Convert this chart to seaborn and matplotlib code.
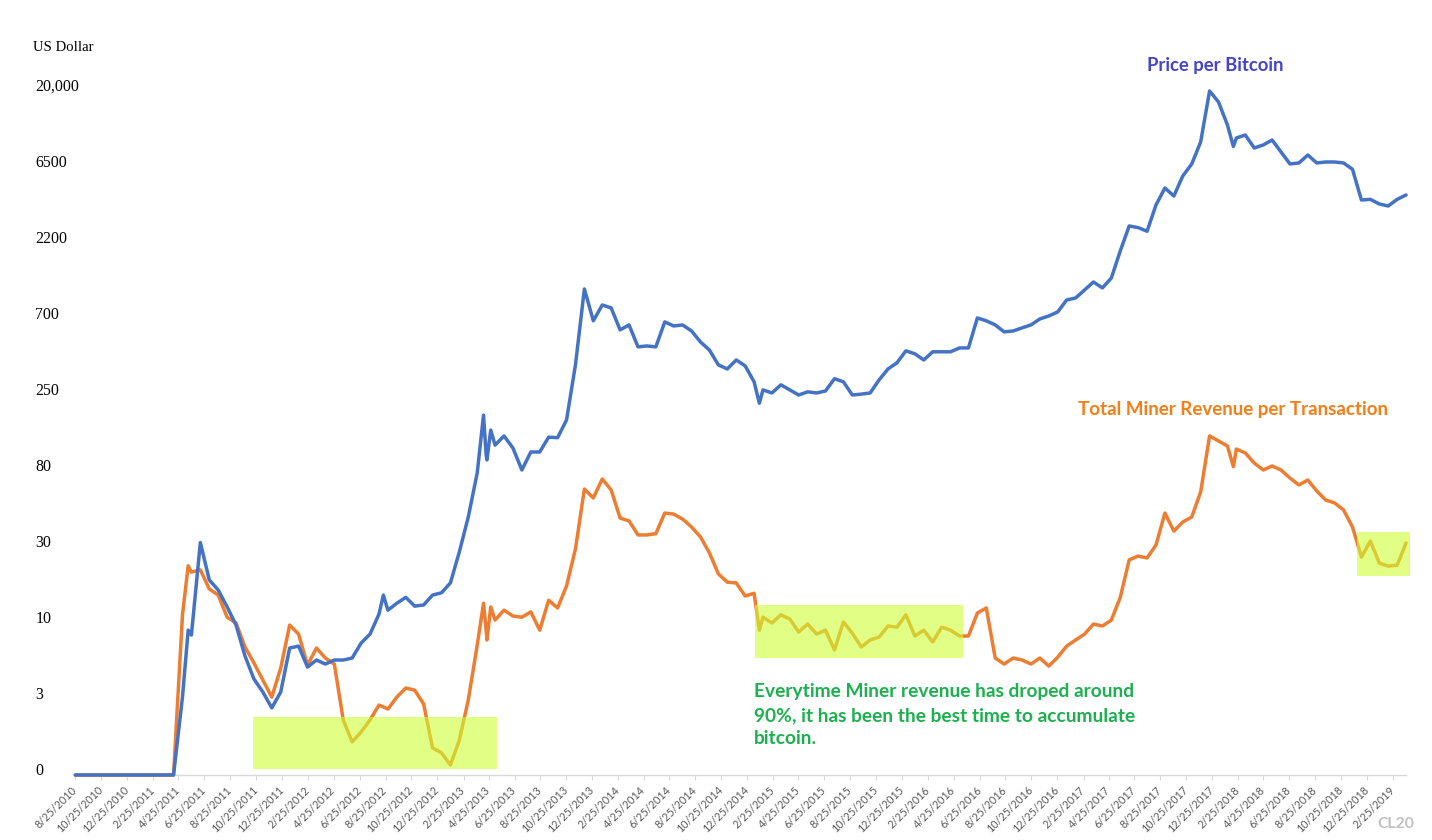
import numpy as np
import pandas as pd
import matplotlib
matplotlib.use("Agg")
import matplotlib.pyplot as plt
import seaborn as sns

# ---------------- data ----------------
dates = pd.date_range("2010-08-25", "2019-03-27", periods=150)

price = [
    0, 0, 0, 0, 0, 0, 0, 0, 0, 0,
    0, 0, 3.1, 8.37, 31.8, 18.8, 16.25, 12.7, 9.7, 6.09,
    4.22, 3.39, 2.40, 3.39, 6.88, 7.09, 5.12, 5.72, 5.37, 5.72,
    5.72, 5.9, 7.42, 8.49, 11.4, 12.1, 13.4, 14.6, 12.85, 13.06,
    15.1, 15.6, 18.0, 28.0, 44.3, 78, 101.7, 118, 135.5, 113,
    81.2, 106.5, 106.5, 133, 132, 172, 376, 1101, 683, 865,
    827, 604, 646, 480, 486, 480, 673, 637, 646, 595,
    513, 460, 376, 356, 402, 371, 299, 268, 257, 287,
    268, 250, 261, 257, 264, 312, 299, 250, 253, 257,
    307, 356, 387, 455, 437, 402, 449, 449, 449, 473,
    473, 711, 683, 646, 588, 595, 621, 646, 701, 733,
    779, 933, 961, 1085, 1223, 1118, 1298, 1951, 2805, 2740,
    2600, 3783, 4821, 4297, 5720, 6795, 9413, 20000, 17000, 12100,
    9985, 10430, 8610, 8998, 9690, 8113, 6800, 6900, 7763, 6900,
    7000, 7000, 6900, 6295, 4062, 4100, 3836, 3730, 4100, 4364,
]

revenue = [
    0, 0, 0, 0, 0, 0, 0, 0, 0, 0,
    0, 0, 11.3, 21.0, 21.7, 16.5, 15.1, 10.9, 10.0, 7.0,
    5.46, 4.15, 3.1, 5.04, 9.7, 8.49, 5.28, 6.88, 5.9, 5.37,
    1.73, 0.83, 1.19, 1.73, 2.58, 2.33, 3.1, 3.63, 3.5, 2.65,
    0.64, 0.5, 0.2, 0.89, 2.93, 7.2, 9.0, 10.45, 12.1, 11.1,
    10.9, 11.8, 9.0, 14.0, 12.5, 17.2, 29.2, 63.5, 56.6, 72.2,
    62.7, 43.7, 42.1, 35.1, 35.1, 35.7, 46.6, 46.0, 43.1, 38.9,
    34.2, 27.6, 20.5, 18.2, 18.0, 14.9, 15.5, 10.9, 10.0, 11.3,
    10.6, 8.75, 9.85, 8.49, 9.0, 6.68, 10.15, 8.6, 7.0, 7.77,
    8.12, 9.57, 9.4, 11.3, 8.25, 9.0, 7.54, 9.4, 9.0, 8.25,
    8.25, 11.6, 12.5, 5.9, 5.37, 5.9, 5.72, 5.37, 5.9, 5.2,
    5.98, 7.09, 7.77, 8.49, 9.85, 9.57, 10.45, 14.6, 25.0, 26.4,
    25.7, 30.8, 46.6, 36.9, 41.5, 44.3, 61.1, 135.5, 125.6, 116.5,
    111.3, 104.9, 90.2, 81.2, 86.3, 81.2, 73.1, 66.9, 71.3, 61.9,
    55.1, 53.1, 48.5, 38.9, 26.0, 32.4, 23.9, 22.9, 23.2, 31.6,
]

# extra readings at sharp spikes / dips
extra_dates = ["2011-05-18", "2012-08-20", "2013-04-13", "2013-04-21",
               "2013-04-30", "2015-01-23", "2018-02-13"]
extra_price = [9.0, 15.1, 185, 94.4, 148, 221, 8807]
extra_revenue = [23.0, 2.46, 13.4, 7.77, 12.7, 9.0, 85.4]

ytick_values = [0, 3, 10, 30, 80, 250, 700, 2200, 6500, 20000]
ytick_labels = ["0", "3", "10", "30", "80", "250", "700", "2200", "6500", "20,000"]
xtick_dates = pd.date_range("2010-08-25", "2019-02-25", freq=pd.DateOffset(months=2))
xtick_labels = [f"{d.month}/{d.day}/{d.year}" for d in xtick_dates]

# highlight boxes: (start, end, low value, high value)
boxes = [
    ("2011-10-18", "2013-05-15", 0.116, 1.88),
    ("2015-01-13", "2016-05-17", 5.9, 13.1),
    ("2018-12-02", "2019-04-05", 19.9, 36.4),
]

df = pd.concat([
    pd.DataFrame({"date": dates, "price": price, "revenue": revenue}),
    pd.DataFrame({"date": pd.to_datetime(extra_dates), "price": extra_price,
                  "revenue": extra_revenue}),
]).sort_values("date").reset_index(drop=True)

# ---------------- style ----------------
sns.set_style("white")
plt.rcParams["font.family"] = ["Lato", "DejaVu Sans"]

W, H = 1432, 840
fig = plt.figure(figsize=(W / 100, H / 100), dpi=100)
left_px, right_px, bottom_px = 75.3, 1406.5, 775.0
unit_px = 76.0
top_pos = 9.4
ax = fig.add_axes([left_px / W, (H - bottom_px) / H,
                   (right_px - left_px) / W, top_pos * unit_px / H])

# custom axis scale: evenly spaced custom labels (log-like)
LT = np.log10(np.array(ytick_values, dtype=float) + 1.0)
IDX = np.arange(len(LT), dtype=float)


def fwd(v):
    v = np.asarray(v, dtype=float)
    t = np.log10(np.clip(v, -0.999, None) + 1.0)
    p = np.interp(t, LT, IDX)
    p = np.where(t > LT[-1], IDX[-1] + (t - LT[-1]) / (LT[-1] - LT[-2]), p)
    p = np.where(t < 0, t / LT[1], p)
    return p


def inv(p):
    p = np.asarray(p, dtype=float)
    t = np.interp(p, IDX, LT)
    t = np.where(p > IDX[-1], LT[-1] + (p - IDX[-1]) * (LT[-1] - LT[-2]), t)
    t = np.where(p < 0, p * LT[1], t)
    return 10 ** t - 1.0


ax.set_yscale("function", functions=(fwd, inv))

BLUE = "#4472C4"
ORANGE = "#ED7D31"
sns.lineplot(data=df, x="date", y="revenue", ax=ax, color=ORANGE, linewidth=2.5,
             zorder=3, clip_on=False)
sns.lineplot(data=df, x="date", y="price", ax=ax, color=BLUE, linewidth=2.5,
             zorder=3.1, clip_on=False)

for d0, d1, lo, hi in boxes:
    ax.fill_between([pd.Timestamp(d0), pd.Timestamp(d1)], lo, hi,
                    color="#CCFF33", alpha=0.6, linewidth=0, zorder=4, clip_on=False)

ax.set_xlim(pd.Timestamp("2010-08-25"), pd.Timestamp("2019-03-28"))
ax.set_ylim(0, float(inv(top_pos)))

for s in ["left", "top", "right"]:
    ax.spines[s].set_visible(False)
ax.spines["bottom"].set_color("#D9D9D9")
ax.spines["bottom"].set_linewidth(1.0)
ax.spines["bottom"].set_zorder(2)

ax.set_xticks(xtick_dates)
ax.set_xticklabels(xtick_labels, rotation=45, ha="right", va="center",
                   rotation_mode="anchor", color="#595959", fontsize=7.8,
                   family=["Lato", "DejaVu Sans"])
ax.tick_params(axis="x", direction="out", length=3.6, width=0.8, color="#D9D9D9",
               pad=6.0, bottom=True)

ax.set_yticks(ytick_values)
ax.set_yticklabels(ytick_labels, family=["Liberation Serif", "DejaVu Serif"],
                   fontsize=11.4, color="black")
ax.tick_params(axis="y", length=0, pad=40 * 0.72, left=True)
for lab in ax.get_yticklabels():
    lab.set_ha("left")
    lab.set_va("baseline")
ax.yaxis.set_minor_locator(matplotlib.ticker.NullLocator())
ax.set_xlabel("")
ax.set_ylabel("")
ax.grid(False)
ax.set_facecolor("white")

# ---------------- texts ----------------
fig.canvas.draw()
renderer = fig.canvas.get_renderer()


def fit_text(s, x, y, width, size0=12, **kw):
    t = fig.text(x / W, 1 - y / H, s, fontsize=size0, ha="left", va="baseline", **kw)
    bb = t.get_window_extent(renderer)
    t.set_fontsize(size0 * width / bb.width)
    return t


fit_text("US Dollar", 33.3, 50.7, 60, family=["Liberation Serif", "DejaVu Serif"],
         color="black")
fit_text("Price per Bitcoin", 1146.7, 71, 135.6, fontweight="bold", color="#4444CC")
fit_text("Total Miner Revenue per Transaction", 1078.3, 415, 310,
         fontweight="bold", color="#F57F17")

GREEN = "#1DB04F"
t2 = fit_text("90%, it has been the best time to accumulate", 753.5, 721.5, 379,
              fontweight="bold", color=GREEN)
fs = t2.get_fontsize()
fig.text(753.5 / W, 1 - 697.5 / H, "Everytime Miner revenue has droped around",
         fontsize=fs, fontweight="bold", color=GREEN, ha="left", va="baseline")
fig.text(753.5 / W, 1 - 744.5 / H, "bitcoin.",
         fontsize=fs, fontweight="bold", color=GREEN, ha="left", va="baseline")

fit_text("CL20", 1377, 827.5, 37, fontweight="bold", color="#C0C0C0")

fig.savefig("out.png", dpi=100, facecolor="white")
